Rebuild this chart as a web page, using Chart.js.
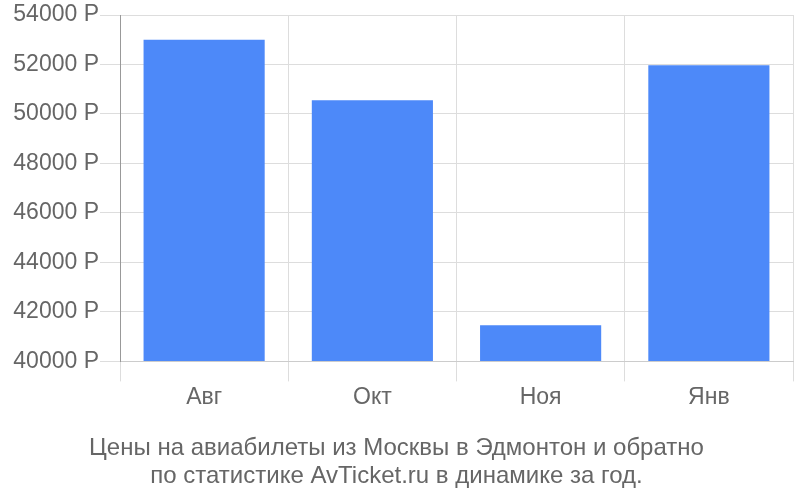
<!DOCTYPE html>
<html>
<head>
<meta charset="utf-8">
<script src="https://cdn.jsdelivr.net/npm/chart.js@4"></script>
<style>
  html, body { margin: 0; padding: 0; background: #fff; }
  #wrap { width: 800px; height: 500px; }
</style>
</head>
<body>
<div id="wrap"><canvas id="chart"></canvas></div>
<script>
// Data
const months = ['Авг', 'Окт', 'Ноя', 'Янв'];
const prices = [53000, 50550, 41460, 51970];
const titleLines = [
  'Цены на авиабилеты из Москвы в Эдмонтон и обратно',
  'по статистике AvTicket.ru в динамике за год.'
];
const yMin = 40000, yMax = 54000, yStep = 2000;

Chart.defaults.font.family = '"Liberation Sans", Arial, sans-serif';
Chart.defaults.color = '#666';

new Chart(document.getElementById('chart'), {
  type: 'bar',
  data: {
    labels: months,
    datasets: [{
      data: prices,
      base: yMin,
      backgroundColor: '#4d89f9',
      borderWidth: 0,
      barPercentage: 0.72,
      categoryPercentage: 1
    }]
  },
  options: {
    responsive: true,
    maintainAspectRatio: false,
    animation: false,
    layout: { padding: { top: 15, right: 7, left: 0, bottom: 10 } },
    plugins: {
      legend: { display: false },
      tooltip: { enabled: false },
      title: {
        display: true,
        position: 'bottom',
        text: titleLines,
        color: '#666',
        font: { size: 24, weight: 'normal', lineHeight: 1.167 },
        padding: { top: 21, bottom: 0 }
      }
    },
    scales: {
      x: {
        grid: { color: '#ddd', offset: true, tickLength: 20 },
        border: { color: '#ccc' },
        ticks: { font: { size: 23 }, color: '#666', padding: 2 }
      },
      y: {
        min: yMin,
        max: yMax,
        afterFit: (s) => { s.width = 120; },
        grid: { color: '#ddd', tickLength: 20 },
        border: { color: '#999' },
        ticks: {
          stepSize: yStep,
          font: { size: 23 },
          color: '#666',
          padding: 1,
          callback: (v) => v + ' Р'
        }
      }
    }
  }
});
</script>
</body>
</html>
